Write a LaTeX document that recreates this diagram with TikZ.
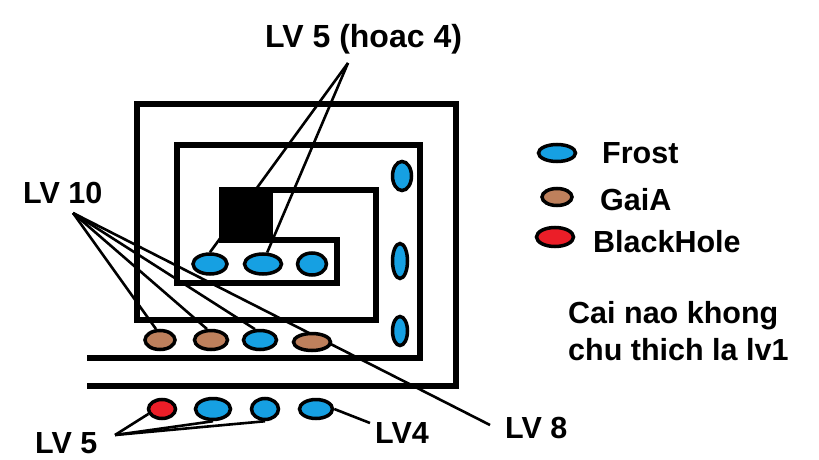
\documentclass[tikz,border=0pt]{standalone}
\usepackage{fontspec}
\setmainfont{Liberation Sans}
\usetikzlibrary{shapes.geometric}
\pgfdeclarelayer{bg}
\pgfdeclarelayer{paper}
\pgfsetlayers{paper,bg,main}
\definecolor{frostblue}{RGB}{22,160,226}
\definecolor{gaiabrown}{RGB}{190,128,92}
\definecolor{holered}{RGB}{235,30,40}
\tikzset{
  wall/.style={line width=5.5pt, line join=miter, line cap=rect},
  gem/.style={ellipse, draw=black, line width=3.5pt, inner sep=0pt},
  frost/.style={gem, fill=frostblue},
  gaia/.style={gem, fill=gaiabrown},
  hole/.style={gem, fill=holered},
  lead/.style={line width=2.6pt},
  lbl/.style={anchor=base west, inner sep=0pt, font=\bfseries\fontsize{30.5}{36}\selectfont}
}
\begin{document}
\begin{tikzpicture}[x=1pt,y=-1pt]
\useasboundingbox (0,0) rectangle (819,460);
\begin{pgfonlayer}{paper}
\fill[white] (0,0) rectangle (819,460);
\end{pgfonlayer}

% walls
\draw[wall] (90,358) -- (420,358) -- (420,145) -- (177,145) -- (177,283) -- (337,283) -- (337,240) -- (222,240);
\draw[wall] (222,190) -- (376,190) -- (376,320) -- (137,320) -- (137,104) -- (456,104) -- (456,386) -- (90,386);

% inner row
\node[frost, minimum width=34pt, minimum height=20pt] (ein1) at (210,264) {};
\node[frost, minimum width=37pt, minimum height=20pt] (ein2) at (263,264) {};
\node[frost, minimum width=29pt, minimum height=22pt] (ein3) at (312,264) {};
% right column
\node[frost, minimum width=19pt, minimum height=29pt] (er1) at (402,176) {};
\node[frost, minimum width=15pt, minimum height=35pt] (er2) at (400,261) {};
\node[frost, minimum width=15pt, minimum height=29pt] (er3) at (400,331) {};
% second row
\node[gaia, minimum width=30pt, minimum height=19pt] (g1) at (160,340) {};
\node[gaia, minimum width=33pt, minimum height=19pt] (g2) at (211,340) {};
\node[frost, minimum width=33pt, minimum height=19pt] (f3) at (260,340) {};
\node[gaia, minimum width=37pt, minimum height=17pt] (g4) at (312,342) {};
% bottom row
\node[hole, minimum width=27pt, minimum height=19pt] (r1) at (162,409) {};
\node[frost, minimum width=35pt, minimum height=21pt] (b2) at (213,409) {};
\node[frost, minimum width=27pt, minimum height=21pt] (b3) at (265,409) {};
\node[frost, minimum width=33pt, minimum height=19pt] (b4) at (316,409) {};
% legend
\node[frost, minimum width=37pt, minimum height=17pt] (kf) at (557,153) {};
\node[gaia, minimum width=30pt, minimum height=17pt] (kg) at (557,197) {};
\node[hole, minimum width=37pt, minimum height=19pt] (kh) at (555,237) {};

% texts
\node[lbl, font=\bfseries\fontsize{32}{38}\selectfont] (t5h) at (265,48) {LV 5 (hoac 4)};
\node[lbl] (t10) at (23,203) {LV 10};
\node[lbl] (tfr) at (602,163) {Frost};
\node[lbl] (tga) at (600,210) {GaiA};
\node[lbl] (tbh) at (593,252) {BlackHole};
\node[lbl] (tc1) at (568,323) {Cai nao khong};
\node[lbl] (tc2) at (568,360) {chu thich la lv1};
\node[lbl] (t5) at (35,453) {LV 5};
\node[lbl] (t4) at (375,443) {LV4};
\node[lbl] (t8) at (505,438) {LV 8};

% tips
\coordinate (p5h) at (348,63);
\coordinate (p10) at (73,213);
\coordinate (p5) at (115,435);
\coordinate (p4) at (370,423);
\coordinate (p8) at (490,425);

\begin{pgfonlayer}{bg}
\draw[lead] (p10) -- (p8);
\draw[lead] (p5h) -- (ein1.north);
\end{pgfonlayer}
% black block over the lead
\fill[black] (219.25,187.25) rectangle (273,242.75);
\draw[lead] (p5h) -- (ein2.70);
\draw[lead] (p10) -- (g1.110);
\draw[lead] (p10) -- (g2.110);
\draw[lead] (p10) -- (f3.115);
\draw[lead] (p5) -- (r1.200);
\draw[lead] (p5) -- (b2.south);
\draw[lead] (p5) -- (b3.south);
\draw[lead] (b4.east) -- (p4);
\end{tikzpicture}
\end{document}
